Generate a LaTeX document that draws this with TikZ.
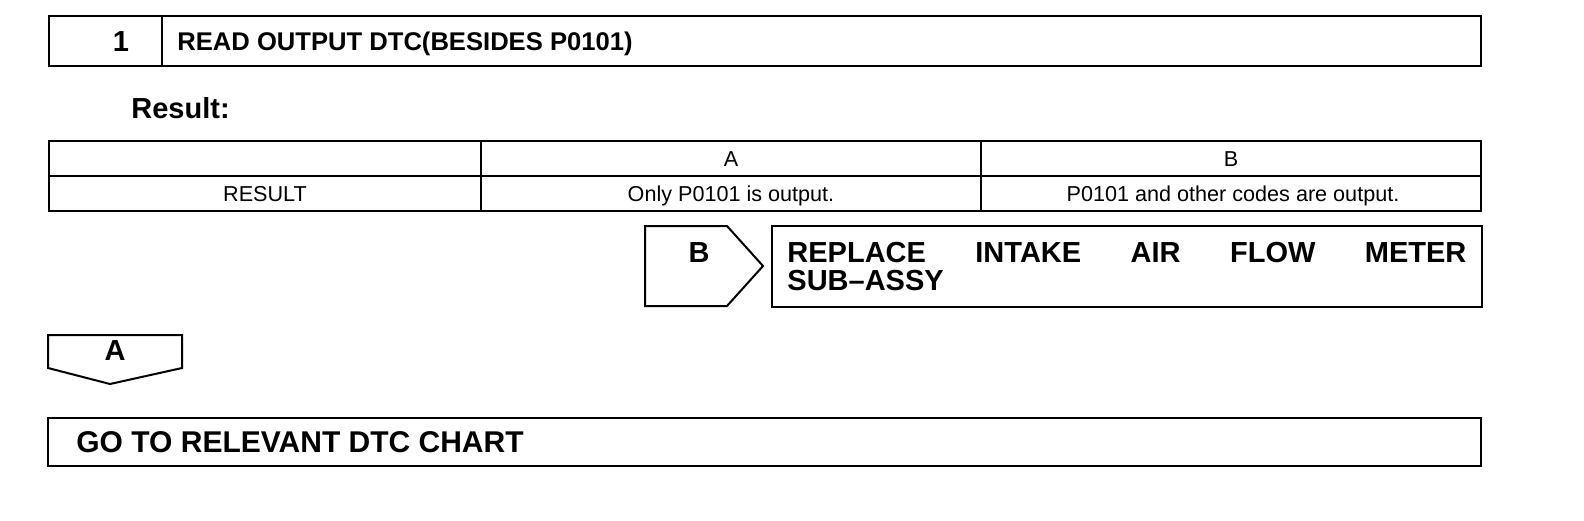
\documentclass[tikz,border=0pt]{standalone}
\usepackage{fontspec}
\setmainfont{Liberation Sans}
\begin{document}
\begin{tikzpicture}[x=0.5pt,y=-0.5pt,
  frame/.style={draw=black, line width=1pt, line join=miter},
  rule/.style={draw=black, line width=1pt},
  bigtxt/.style={font=\fontsize{12.8}{14}\selectfont\bfseries, inner sep=0pt},
  largetxt/.style={font=\fontsize{14.5}{14}\selectfont\bfseries, inner sep=0pt},
  smalltxt/.style={font=\fontsize{10.8}{13}\selectfont, inner sep=0pt}]
\useasboundingbox (0,0) rectangle (1584,520);
% step 1 header
\draw[frame] (49,16) rectangle (1481,66);
\draw[rule] (162,16) -- (162,66);
\node[largetxt, anchor=base] (num) at (121,51) {1};
\node[bigtxt, anchor=base west] (title) at (177,50) {READ OUTPUT DTC(BESIDES P0101)};
% result
\node[largetxt, anchor=base west] (res) at (131,118) {Result:};
\draw[frame] (49,141) rectangle (1481,211);
\draw[rule] (49,176) -- (1481,176);
\draw[rule] (481,141) -- (481,211);
\draw[rule] (981,141) -- (981,211);
\node[smalltxt, anchor=base] (ha) at (731,166) {A};
\node[smalltxt, anchor=base] (hb) at (1231,166) {B};
\node[smalltxt, anchor=base] (rr) at (265,201) {RESULT};
\node[smalltxt, anchor=base] (ra) at (731,201) {Only P0101 is output.};
\node[smalltxt, anchor=base] (rb) at (1233,201) {P0101 and other codes are output.};
% B branch
\draw[frame] (645,226) -- (727,226) -- (763,266) -- (727,306) -- (645,306) -- cycle;
\node[largetxt, anchor=base] (lb) at (699,262) {B};
\draw[frame] (772,226) rectangle (1482,307);
\node[largetxt, anchor=base west, text width=339.5pt, align=left] (repl) at (787,262)
  {REPLACE\hfill INTAKE\hfill AIR\hfill FLOW\hfill METER\\SUB–ASSY};
% A branch
\draw[frame] (48,335) -- (182,335) -- (182,368) -- (110,384) -- (48,368) -- cycle;
\node[largetxt, anchor=base] (la) at (115,360) {A};
\draw[frame] (48,418) rectangle (1481,466);
\node[largetxt, font=\fontsize{15}{16}\selectfont\bfseries, anchor=base west] (go) at (76,452) {GO TO RELEVANT DTC CHART};
\end{tikzpicture}
\end{document}
